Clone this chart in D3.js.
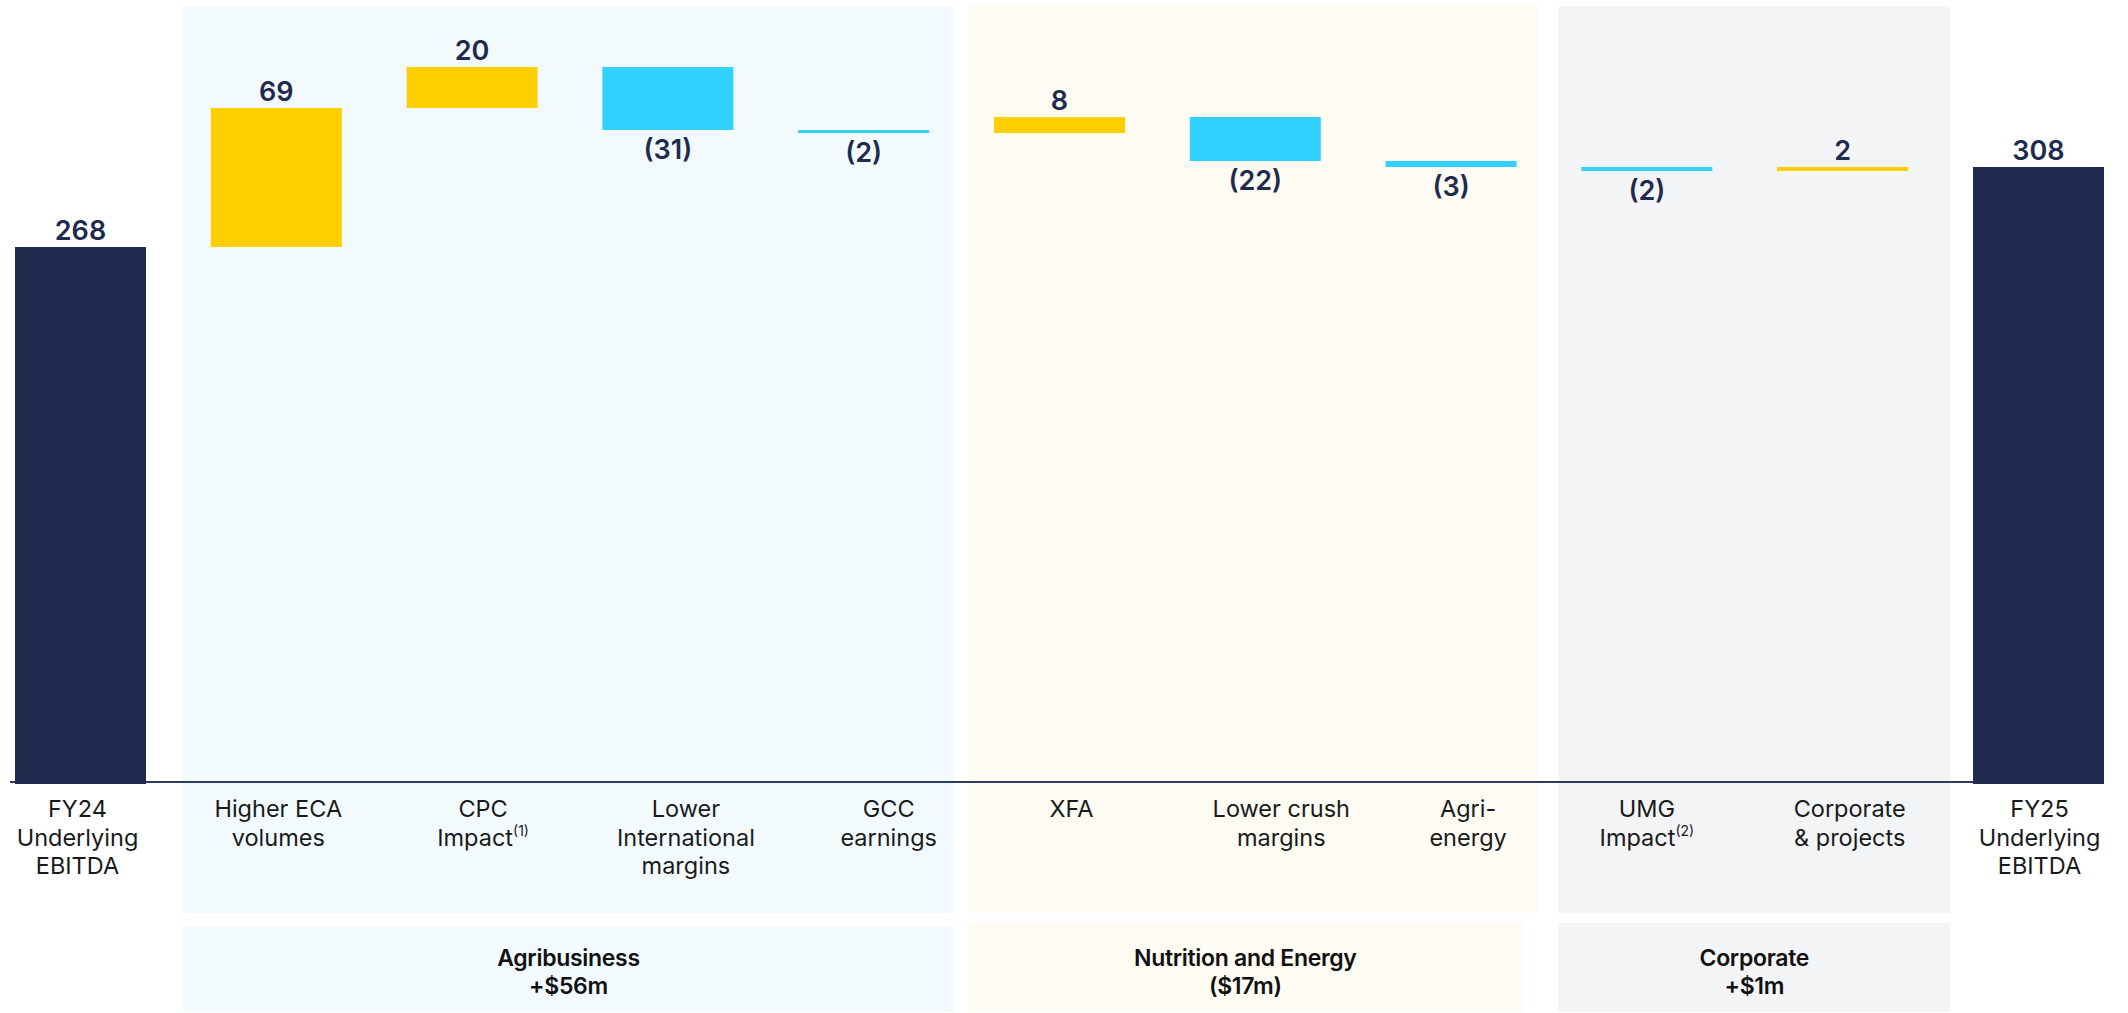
<!DOCTYPE html>
<html>
<head>
<meta charset="utf-8">
<script src="https://cdn.jsdelivr.net/npm/d3@7"></script>
<style>
  html, body { margin: 0; padding: 0; background: #ffffff; }
  svg { display: block; }
  text { font-family: Inter, "Noto Sans", sans-serif; }
</style>
</head>
<body>
<svg id="chart" width="2128" height="1013"></svg>
<script>
// ---------------- DATA ----------------
const categories = ["FY24", "ECA", "CPC", "Intl", "GCC", "XFA", "Crush", "AgriEnergy", "UMG", "Corp", "FY25"];
const categoryLabels = [
  ["FY24", "Underlying", "EBITDA"],
  ["Higher ECA", "volumes"],
  ["CPC", "Impact^(1)"],
  ["Lower", "International", "margins"],
  ["GCC", "earnings"],
  ["XFA"],
  ["Lower crush", "margins"],
  ["Agri-", "energy"],
  ["UMG", "Impact^(2)"],
  ["Corporate", "& projects"],
  ["FY25", "Underlying", "EBITDA"]
];
const barTypes = ["total", "delta", "delta", "delta", "delta", "delta", "delta", "delta", "delta", "delta", "total"];
const values = [268, 69.5, 20.5, -31.5, -1.5, 8, -22, -3, -2, 2, 308];
const valueLabels = ["268", "69", "20", "(31)", "(2)", "8", "(22)", "(3)", "(2)", "2", "308"];

const groupNames = [["Agribusiness", "+$56m"], ["Nutrition and Energy", "($17m)"], ["Corporate", "+$1m"]];
const groupFirst = ["ECA", "XFA", "UMG"];
const groupLast = ["GCC", "AgriEnergy", "Corp"];

// ---------------- STYLE ----------------
const navy = "#1e2b4f";
const yellow = "#ffcf00";
const cyan = "#33d1ff";
const textDark = "#1a1a1a";
const panelFill = ["#f3fafe", "#fefbf2", "#f3f4f6"];
// panel offsets relative to bands: [left pad, right pad upper, right pad lower]
const panelPads = [[28, 25, 25], [26, 21, 6], [23, 42, 42]];
// horizontal nudges of category labels (as placed in the original slide)
const labelDx = [-3, 2, 11, 18, 25, 12, 26, 17, 0, 7, 1];

const W = 2128, H = 1013;
const svg = d3.select("#chart");

const x = d3.scaleBand().domain(categories).range([15, 2104]).paddingInner(0.331).paddingOuter(0);
const y = d3.scaleLinear().domain([0, 390]).range([783, 3]);

// compute waterfall extents
let running = 0;
const bars = categories.map((c, i) => {
  let lo, hi;
  if (barTypes[i] === "total") {
    lo = 0; hi = values[i]; running = values[i];
  } else {
    const start = running, end = running + values[i];
    lo = Math.min(start, end); hi = Math.max(start, end); running = end;
  }
  return { cat: c, lo, hi, v: values[i], type: barTypes[i], label: valueLabels[i] };
});

// ---------------- PANELS ----------------
const panelTop = 6, panelBottom = 913, lowerTop = [926, 923, 923], lowerBottom = 1012;
groupNames.forEach((g, gi) => {
  const left = x(groupFirst[gi]) - panelPads[gi][0];
  const rightU = x(groupLast[gi]) + x.bandwidth() + panelPads[gi][1];
  const rightL = x(groupLast[gi]) + x.bandwidth() + panelPads[gi][2];
  svg.append("rect").attr("x", left).attr("y", panelTop)
    .attr("width", rightU - left).attr("height", panelBottom - panelTop)
    .attr("fill", panelFill[gi]);
  svg.append("rect").attr("x", left).attr("y", lowerTop[gi])
    .attr("width", rightL - left).attr("height", lowerBottom - lowerTop[gi])
    .attr("fill", panelFill[gi]);
  const cx = (left + rightL) / 2;
  const t = svg.append("text").attr("text-anchor", "middle")
    .attr("font-size", 23).attr("font-weight", 600).attr("fill", "#111111")
    .attr("letter-spacing", "-0.3");
  g.forEach((line, li) => {
    t.append("tspan").attr("x", cx).attr("y", 966 + li * 28).text(line);
  });
});

// ---------------- AXIS LINE ----------------
svg.append("line")
  .attr("x1", 10).attr("x2", x("FY25"))
  .attr("y1", y(0) - 1).attr("y2", y(0) - 1)
  .attr("stroke", "#2d3b62").attr("stroke-width", 2.2);

// ---------------- BARS ----------------
svg.selectAll("rect.bar").data(bars).enter().append("rect")
  .attr("class", "bar")
  .attr("x", d => x(d.cat))
  .attr("width", x.bandwidth())
  .attr("y", d => y(d.hi))
  .attr("height", d => Math.max(3, y(d.lo) - y(d.hi) + (d.type === "total" ? 1 : 0)))
  .attr("fill", d => d.type === "total" ? navy : (d.v >= 0 ? yellow : cyan));

// ---------------- VALUE LABELS ----------------
svg.selectAll("text.val").data(bars).enter().append("text")
  .attr("class", "val")
  .attr("text-anchor", "middle")
  .attr("font-size", 27).attr("font-weight", 600).attr("fill", navy)
  .attr("x", d => x(d.cat) + x.bandwidth() / 2)
  .attr("y", d => (d.type === "total" || d.v >= 0) ? y(d.hi) - 7 : y(d.lo) + 29)
  .text(d => d.label);

// ---------------- CATEGORY LABELS ----------------
categories.forEach((c, i) => {
  const cx = x(c) + x.bandwidth() / 2 + labelDx[i];
  const t = svg.append("text").attr("text-anchor", "middle")
    .attr("font-size", 23.5).attr("fill", textDark);
  categoryLabels[i].forEach((line, li) => {
    const parts = line.split("^");
    t.append("tspan").attr("x", cx).attr("y", 817 + li * 28.5).text(parts[0]);
    if (parts[1]) {
      t.append("tspan").attr("font-size", 14).attr("dy", -10).text(parts[1]);
    }
  });
});
</script>
</body>
</html>
